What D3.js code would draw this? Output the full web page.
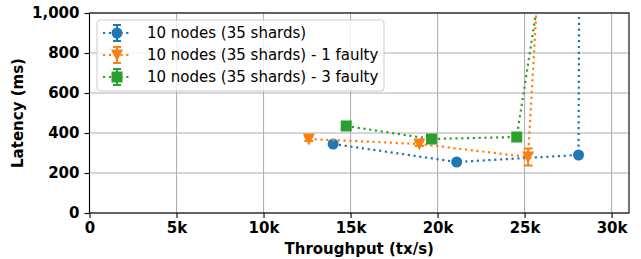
<!DOCTYPE html>
<html>
<head>
<meta charset="utf-8">
<script src="https://cdn.jsdelivr.net/npm/d3@7"></script>
<style>
  body { margin: 0; background: #fff; }
  text { font-family: "DejaVu Sans", sans-serif; }
</style>
</head>
<body>
<svg id="chart" width="641" height="259"></svg>
<script>
// series data (throughput tx/s, latency ms, error ms)
var seriesNames = ["10 nodes (35 shards)", "10 nodes (35 shards) - 1 faulty", "10 nodes (35 shards) - 3 faulty"];
var blueX = [14000, 21100, 28100, 28150];
var blueY = [345, 255, 290, 1500];
var blueErr = [8, 8, 10, 0];
var orangeX = [12600, 18950, 25200, 26000];
var orangeY = [370, 345, 280, 1500];
var orangeErr = [10, 10, 42, 0];
var greenX = [14750, 19650, 24550, 26550];
var greenY = [435, 370, 380, 1500];
var greenErr = [8, 8, 10, 0];
var xTicks = [0, 5000, 10000, 15000, 20000, 25000, 30000];
var yTicks = [0, 200, 400, 600, 800, 1000];

var colors = ["#1f77b4", "#ff7f0e", "#2ca02c"];
var markers = ["circle", "triangle", "square"];

var svg = d3.select("#chart");
var margin = {left: 89.5, right: 12, top: 13, bottom: 46};
var width = 641 - margin.left - margin.right;
var height = 259 - margin.top - margin.bottom;

var x = d3.scaleLinear().domain([0, 31000]).range([0, width]);
var y = d3.scaleLinear().domain([0, 1000]).range([height, 0]);

var g = svg.append("g").attr("transform", "translate(" + margin.left + "," + margin.top + ")");

g.append("clipPath").attr("id", "clip")
  .append("rect").attr("width", width).attr("height", height);

// grid
g.selectAll("line.gx").data(xTicks).enter().append("line")
  .attr("x1", function(d) { return x(d); }).attr("x2", function(d) { return x(d); })
  .attr("y1", 0).attr("y2", height)
  .attr("stroke", "#b0b0b0").attr("stroke-width", 1.1);
g.selectAll("line.gy").data(yTicks).enter().append("line")
  .attr("y1", function(d) { return y(d); }).attr("y2", function(d) { return y(d); })
  .attr("x1", 0).attr("x2", width)
  .attr("stroke", "#b0b0b0").attr("stroke-width", 1.1);

// axes
var xAxis = g.append("g").attr("transform", "translate(0," + height + ")")
  .call(d3.axisBottom(x).tickValues(xTicks).tickSize(5).tickPadding(4)
    .tickFormat(function(d) { return d == 0 ? "0" : (d / 1000) + "k"; }));
var yAxis = g.append("g")
  .call(d3.axisLeft(y).tickValues(yTicks).tickSize(5).tickPadding(5)
    .tickFormat(d3.format(",")));
[xAxis, yAxis].forEach(function(a) {
  a.select(".domain").remove();
  a.selectAll("line").attr("stroke", "#000").attr("stroke-width", 1.1);
  a.selectAll("text").attr("font-family", "DejaVu Sans").attr("font-size", "15px")
    .attr("font-weight", "bold").attr("fill", "#000");
});

// frame
g.append("rect").attr("width", width).attr("height", height)
  .attr("fill", "none").attr("stroke", "#000").attr("stroke-width", 1.1);

// axis labels
svg.append("text").attr("x", margin.left + width / 2).attr("y", 254)
  .attr("text-anchor", "middle").attr("font-size", "15px").attr("font-weight", "bold")
  .text("Throughput (tx/s)");
svg.append("text").attr("transform", "translate(23," + (margin.top + height / 2) + ") rotate(-90)")
  .attr("text-anchor", "middle").attr("font-size", "15px").attr("font-weight", "bold")
  .text("Latency (ms)");

function drawMarker(sel, type, color) {
  if (type == "circle") {
    sel.append("circle").attr("r", 5.5).attr("fill", color);
  } else if (type == "square") {
    sel.append("rect").attr("x", -5.5).attr("y", -5.5).attr("width", 11).attr("height", 11).attr("fill", color);
  } else {
    sel.append("path").attr("d", "M-6,-5.5L6,-5.5L0,6.5Z").attr("fill", color);
  }
}

var allSeries = [
  {xs: blueX, ys: blueY, errs: blueErr},
  {xs: orangeX, ys: orangeY, errs: orangeErr},
  {xs: greenX, ys: greenY, errs: greenErr}
];

var plot = g.append("g").attr("clip-path", "url(#clip)");
var line = d3.line().x(function(d) { return x(d[0]); }).y(function(d) { return y(d[1]); });

allSeries.forEach(function(s, k) {
  var pts = s.xs.map(function(v, i) { return [v, s.ys[i], s.errs[i]]; });
  var sg = plot.append("g");
  sg.append("path").datum(pts).attr("d", line)
    .attr("fill", "none").attr("stroke", colors[k]).attr("stroke-width", 2.2)
    .attr("stroke-dasharray", "2.2,3.6");
  var pg = sg.selectAll("g.pt").data(pts).enter().append("g")
    .attr("transform", function(d) { return "translate(" + x(d[0]) + "," + y(d[1]) + ")"; });
  pg.append("line").attr("x1", 0).attr("x2", 0)
    .attr("y1", function(d) { return y(d[1] + d[2]) - y(d[1]); })
    .attr("y2", function(d) { return y(d[1] - d[2]) - y(d[1]); })
    .attr("stroke", colors[k]).attr("stroke-width", 2);
  [1, -1].forEach(function(sgn) {
    pg.append("line").attr("x1", -4.5).attr("x2", 4.5)
      .attr("y1", function(d) { return y(d[1] + sgn * d[2]) - y(d[1]); })
      .attr("y2", function(d) { return y(d[1] + sgn * d[2]) - y(d[1]); })
      .attr("stroke", colors[k]).attr("stroke-width", 2);
  });
  drawMarker(pg, markers[k], colors[k]);
});

// legend
var lg = svg.append("g").attr("transform", "translate(97,20)");
lg.append("rect").attr("width", 287).attr("height", 71).attr("rx", 3)
  .attr("fill", "#fff").attr("fill-opacity", 0.8).attr("stroke", "#cccccc");
var items = lg.selectAll("g.item").data(seriesNames).enter().append("g")
  .attr("transform", function(d, i) { return "translate(0," + (13 + i * 22) + ")"; });
items.append("line").attr("x1", 6).attr("x2", 34).attr("y1", 0).attr("y2", 0)
  .attr("stroke", function(d, i) { return colors[i]; }).attr("stroke-width", 2.2)
  .attr("stroke-dasharray", "2.2,3.6");
items.each(function(d, i) {
  var it = d3.select(this).append("g").attr("transform", "translate(20,0)");
  it.append("line").attr("x1", 0).attr("x2", 0).attr("y1", -8).attr("y2", 8)
    .attr("stroke", colors[i]).attr("stroke-width", 2);
  [-8, 8].forEach(function(yy) {
    it.append("line").attr("x1", -4).attr("x2", 4).attr("y1", yy).attr("y2", yy)
      .attr("stroke", colors[i]).attr("stroke-width", 2);
  });
  drawMarker(it, markers[i], colors[i]);
});
items.append("text").attr("x", 50).attr("y", 0).attr("dy", "0.35em")
  .attr("font-size", "15px").attr("fill", "#000")
  .text(function(d) { return d; });
</script>
</body>
</html>
